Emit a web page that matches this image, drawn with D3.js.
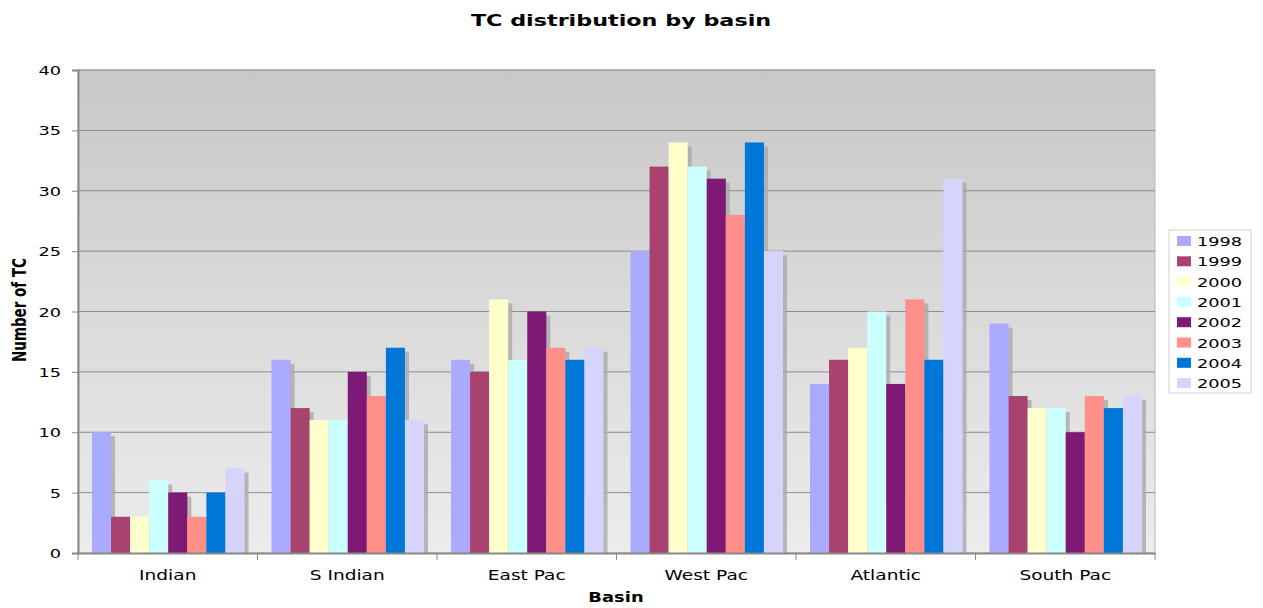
<!DOCTYPE html>
<html>
<head>
<meta charset="utf-8">
<script src="https://cdn.jsdelivr.net/npm/d3@7"></script>
<style>
  body { margin: 0; background: #fff; }
  text { font-family: "DejaVu Sans", Verdana, sans-serif; }
</style>
</head>
<body>
<div id="chart-area"></div>
<script>
const basins = ["Indian", "S Indian", "East Pac", "West Pac", "Atlantic", "South Pac"]
const years = ["1998", "1999", "2000", "2001", "2002", "2003", "2004", "2005"]
const indian = [10, 3, 3, 6, 5, 3, 5, 7]
const sIndian = [16, 12, 11, 11, 15, 13, 17, 11]
const eastPac = [16, 15, 21, 16, 20, 17, 16, 17]
const westPac = [25, 32, 34, 32, 31, 28, 34, 25]
const atlantic = [14, 16, 17, 20, 14, 21, 16, 31]
const southPac = [19, 13, 12, 12, 10, 13, 12, 13]
const yTicks = [0, 5, 10, 15, 20, 25, 30, 35, 40]
const yearColors = ["#aaaaff", "#a8426f", "#ffffcc", "#ccffff", "#7e1975", "#ff8f88", "#0077d8", "#d5d5fb"]

const counts = [indian, sIndian, eastPac, westPac, atlantic, southPac]
const data = []
basins.forEach((b, i) => years.forEach((yr, j) => data.push({ basin: b, year: yr, value: counts[i][j] })))

const MARGIN = { LEFT: 78, RIGHT: 108, TOP: 70, BOTTOM: 55 }
const W = 1263, H = 608
const WIDTH = W - MARGIN.LEFT - MARGIN.RIGHT
const HEIGHT = H - MARGIN.TOP - MARGIN.BOTTOM

// the original text is drawn wide, so it gets stretched sideways
const WIDE = 1.28
const WIDE_NUM = 1.42

const svg = d3.select("#chart-area").append("svg")
  .attr("width", W)
  .attr("height", H)

const defs = svg.append("defs")
const grad = defs.append("linearGradient")
  .attr("id", "bg").attr("x1", 0).attr("y1", 0).attr("x2", 0).attr("y2", 1)
grad.append("stop").attr("offset", "0%").attr("stop-color", "#c8c8c8")
grad.append("stop").attr("offset", "100%").attr("stop-color", "#ececec")

const g = svg.append("g")
  .attr("transform", `translate(${MARGIN.LEFT}, ${MARGIN.TOP})`)

const x0 = d3.scaleBand().domain(basins).range([0, WIDTH]).paddingInner(0).paddingOuter(0)
const x1 = d3.scaleBand().domain(years).range([14, x0.bandwidth() - 13]).padding(0)
const y = d3.scaleLinear().domain([0, 40]).range([HEIGHT, 0])
const color = d3.scaleOrdinal().domain(years).range(yearColors)

// plot background
g.append("rect")
  .attr("width", WIDTH).attr("height", HEIGHT)
  .attr("fill", "url(#bg)")
  .attr("stroke", "#b8b8b8")

// gridlines
g.append("g")
  .selectAll("line")
  .data(yTicks.filter(d => d > 0))
  .join("line")
  .attr("x1", 0).attr("x2", WIDTH)
  .attr("y1", d => y(d)).attr("y2", d => y(d))
  .attr("stroke", "#8c8c8c")
  .attr("stroke-width", 1)

// bar shadows then bars
g.append("g").selectAll("rect")
  .data(data)
  .join("rect")
  .attr("x", d => x0(d.basin) + x1(d.year) + 4)
  .attr("y", d => y(d.value) + 4)
  .attr("width", x1.bandwidth())
  .attr("height", d => HEIGHT - y(d.value) - 4)
  .attr("fill", "#a9a9a9")
  .attr("opacity", 0.8)

g.append("g").selectAll("rect")
  .data(data)
  .join("rect")
  .attr("x", d => x0(d.basin) + x1(d.year))
  .attr("y", d => y(d.value))
  .attr("width", x1.bandwidth())
  .attr("height", d => HEIGHT - y(d.value))
  .attr("fill", d => color(d.year))

// axes
const yAxis = g.append("g")
  .call(d3.axisLeft(y).tickValues(yTicks).tickSize(6))
yAxis.select(".domain").attr("stroke", "#888").attr("stroke-width", 2)
yAxis.selectAll(".tick line").attr("stroke", "#888")
yAxis.selectAll("text")
  .attr("x", 0).attr("dy", "0.36em")
  .attr("transform", `translate(-17, 0) scale(${WIDE_NUM}, 1)`)
  .attr("font-size", "12.5px").attr("fill", "#000")
  .attr("font-family", "DejaVu Sans")

const xAxis = g.append("g")
  .attr("transform", `translate(0, ${HEIGHT})`)
  .call(d3.axisBottom(x0).tickSize(0))
xAxis.select(".domain").attr("stroke", "#888").attr("stroke-width", 2)
xAxis.selectAll("text")
  .attr("y", 0).attr("dy", 0)
  .attr("transform", `translate(0, 27) scale(${WIDE}, 1)`)
  .attr("font-size", "14.5px").attr("fill", "#000")
  .attr("font-family", "DejaVu Sans")

// category separators
xAxis.append("g").selectAll("line")
  .data(basins.concat(["end"]))
  .join("line")
  .attr("x1", (d, i) => i * x0.bandwidth())
  .attr("x2", (d, i) => i * x0.bandwidth())
  .attr("y1", 0).attr("y2", 7)
  .attr("stroke", "#888")

// titles
svg.append("text")
  .attr("transform", `translate(621, 26) scale(1.35, 1)`)
  .attr("text-anchor", "middle")
  .attr("font-size", "16.5px").attr("font-weight", "bold")
  .text("TC distribution by basin")

svg.append("text")
  .attr("transform", `translate(616, 602) scale(${WIDE}, 1)`)
  .attr("text-anchor", "middle")
  .attr("font-size", "14px").attr("font-weight", "bold")
  .text("Basin")

svg.append("text")
  .attr("transform", "translate(26, 310) rotate(-90) scale(1, 1.3)")
  .attr("text-anchor", "middle")
  .attr("font-size", "15px").attr("font-weight", "bold")
  .style("font-family", "'Liberation Sans Narrow', 'DejaVu Sans Condensed', sans-serif")
  .text("Number of TC")

// legend
const legend = svg.append("g").attr("transform", "translate(1169, 230)")
legend.append("rect")
  .attr("width", 82).attr("height", 163)
  .attr("fill", "#fff").attr("stroke", "#d0d0d0")
const item = legend.selectAll(".item")
  .data(years)
  .join("g")
  .attr("class", "item")
  .attr("transform", (d, i) => `translate(8, ${16 + i * 20.3})`)
item.append("rect")
  .attr("y", -10).attr("width", 14).attr("height", 10)
  .attr("fill", d => color(d))
item.append("text")
  .attr("transform", `translate(20, 0) scale(${WIDE_NUM}, 1)`)
  .attr("font-size", "12.5px")
  .text(d => d)
</script>
</body>
</html>
